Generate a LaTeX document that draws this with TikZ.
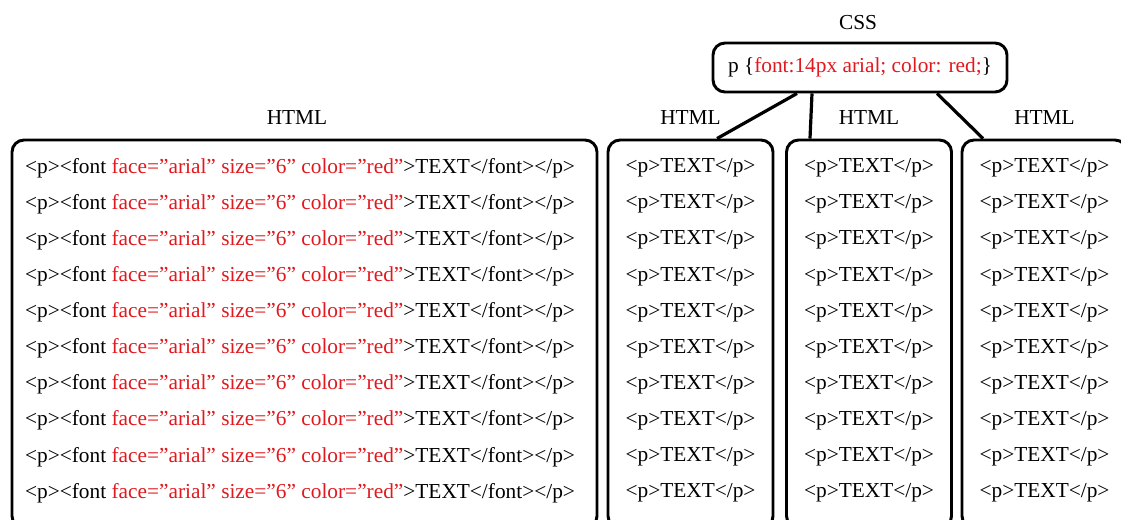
\documentclass[tikz,border=0pt]{standalone}
\usepackage{fontspec}
\setmainfont{Liberation Serif}
\usetikzlibrary{positioning, calc}
\definecolor{attrred}{RGB}{225,25,30}

\begin{document}
\begin{tikzpicture}[x=0.75pt, y=-0.75pt,
    codebox/.style={rectangle, draw, line width=2.2pt, rounded corners=9pt,
        minimum width={#1*0.75pt}, minimum height=291pt, inner sep=0pt},
    heading/.style={font=\fontsize{16}{18}\selectfont, inner sep=0pt},
    row/.style={font=\fontsize{16}{18}\selectfont, inner sep=0pt},
    link/.style={line width=2.4pt}]
    \useasboundingbox (0,0) rectangle (1121,519);

    % CSS rule on top
    \node[heading] (csslabel) at (858, 23) {CSS};
    \node[rectangle, draw, line width=2.2pt, rounded corners=9pt, minimum width=220.5pt,
        minimum height=36.75pt, row] (css) at (860, 67.5)
        {p \{\textcolor{attrred}{font:14px arial; color: red;}\}};

    % HTML with inline font tags
    \node[heading] (htmllabel) at (297, 118) {HTML};
    \node[codebox=585] (big) at (304.5, 334) {};
    \foreach \i in {0,...,9} {
        \node[row] (big\i) at (300, {168+36.1*\i})
            {<p><font \textcolor{attrred}{face=”arial” size=”6” color=”red”}>TEXT</font></p>};
    }

    % HTML styled by the CSS rule
    \foreach \n/\x in {1/690.5, 2/869, 3/1044.5} {
        \node[heading] (htmllabel\n) at (\x, 118) {HTML};
        \node[codebox=165] (b\n) at (\x, 334) {};
        \foreach \i in {0,...,9} {
            \node[row] (b\n row\i) at (\x, {168+36.1*\i}) {<p>TEXT</p>};
        }
    }

    % rule applies to each page
    \draw[link] ([xshift=-47.25pt]css.south) -- ([xshift=19.9pt]b1.north);
    \draw[link] ([xshift=-36pt]css.south) -- ([xshift=-44.25pt]b2.north);
    \draw[link] ([xshift=57.75pt]css.south) -- ([xshift=-46.1pt]b3.north);
\end{tikzpicture}
\end{document}
